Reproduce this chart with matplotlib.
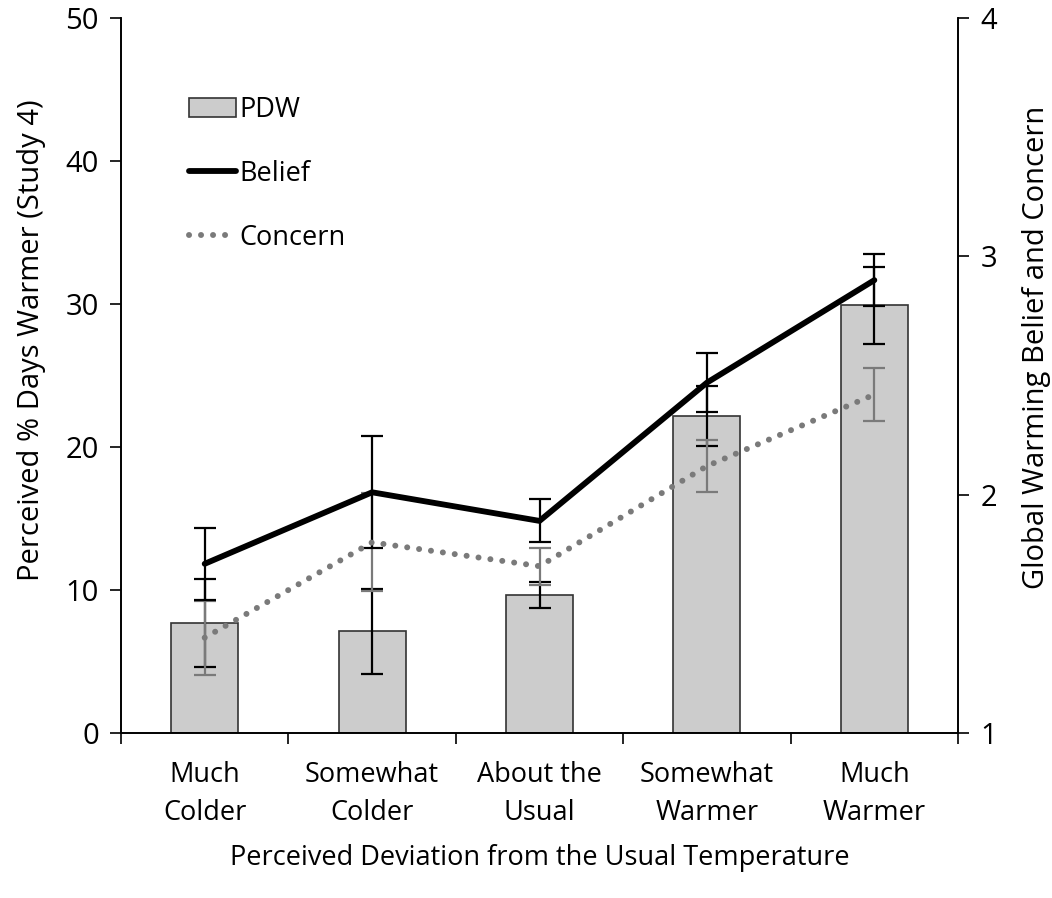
import matplotlib
matplotlib.use("Agg")
import matplotlib.pyplot as plt
import numpy as np

plt.rcParams['font.family'] = ['Open Sans', 'DejaVu Sans']

categories = ["Much\nColder", "Somewhat\nColder", "About the\nUsual", "Somewhat\nWarmer", "Much\nWarmer"]
pdw = [7.7, 7.1, 9.65, 22.2, 29.9]
pdw_err = [3.1, 3.0, 0.9, 2.1, 2.7]
belief = [1.71, 2.01, 1.89, 2.47, 2.90]
belief_err = [0.15, 0.235, 0.09, 0.125, 0.11]
concern = [1.40, 1.80, 1.70, 2.12, 2.42]
concern_err = [0.155, 0.205, 0.078, 0.11, 0.11]

x = np.arange(len(categories))

fig = plt.figure(figsize=(10.52, 8.98), dpi=100)
ax = fig.add_axes([0.115, 0.1837, 0.7957, 0.7963])
ax2 = ax.twinx()

bars = ax.bar(x, pdw, width=0.4, color="#cccccc", edgecolor="#333333", linewidth=1.2, label="PDW", zorder=2)
ax.errorbar(x, pdw, yerr=pdw_err, fmt="none", ecolor="black", elinewidth=1.6, capsize=8, capthick=1.6, zorder=3)

ax2.errorbar(x, concern, yerr=concern_err, fmt="none", ecolor="#7a7a7a", elinewidth=1.6, capsize=8, capthick=1.6, zorder=3)
ax2.errorbar(x, belief, yerr=belief_err, fmt="none", ecolor="black", elinewidth=1.6, capsize=8, capthick=1.6, zorder=3)
l_belief, = ax2.plot(x, belief, color="black", linewidth=4.2, solid_capstyle="round", label="Belief", zorder=4)
l_concern, = ax2.plot(x, concern, color="#7a7a7a", linewidth=4.3, linestyle=(0, (0.01, 2.0)),
                      dash_capstyle="round", label="Concern", zorder=4)

ax.set_xlim(-0.5, 4.5)
ax.set_ylim(0, 50)
ax2.set_ylim(1, 4)
ax.set_yticks([0, 10, 20, 30, 40, 50])
ax2.set_yticks([1, 2, 3, 4])

ax.set_xticks(x)
ax.set_xticklabels(categories, fontsize=19.5, linespacing=1.5)
ax.set_xticks(np.arange(-0.5, 5.0, 1.0), minor=True)
ax.tick_params(axis="x", which="major", length=0, pad=20)
ax.tick_params(axis="x", which="minor", length=8, width=1.2, direction="out")
ax.tick_params(axis="y", length=8, width=1.2, direction="out", labelsize=21, pad=8)
ax2.tick_params(axis="y", length=8, width=1.2, direction="out", labelsize=21, pad=8)

for a in (ax, ax2):
    a.spines["top"].set_visible(False)
    for s in ("left", "right", "bottom"):
        a.spines[s].set_linewidth(1.2)

ax.set_ylabel("Perceived % Days Warmer (Study 4)", fontsize=21)
ax2.set_ylabel("Global Warming Belief and Concern", fontsize=21)
ax.yaxis.set_label_coords(-0.09, 0.55)
ax2.yaxis.set_label_coords(1.076, 0.54)
ax.set_xlabel("Perceived Deviation from the Usual Temperature", fontsize=19.5, labelpad=12)

ax.set_zorder(ax2.get_zorder() - 1)
ax.patch.set_visible(False)

ax2.legend([bars, l_belief, l_concern], ["PDW", "Belief", "Concern"], loc="upper left",
           bbox_to_anchor=(0.068, 0.906), frameon=False, fontsize=19.5, handlelength=1.75,
           handletextpad=0.12, labelspacing=1.32, borderaxespad=0)

fig.savefig("out.png", dpi=100)
